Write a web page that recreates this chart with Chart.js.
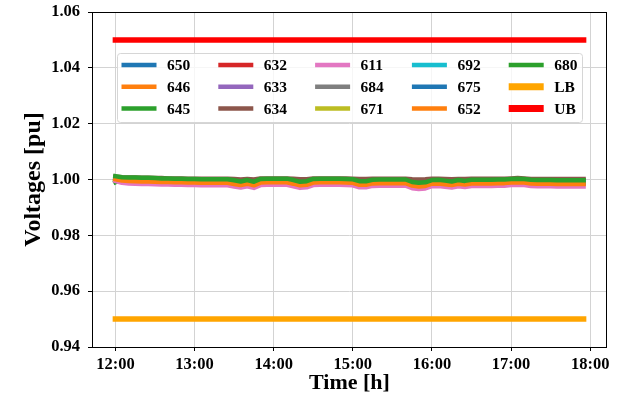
<!DOCTYPE html>
<html>
<head>
<meta charset="utf-8">
<script src="https://cdn.jsdelivr.net/npm/chart.js@4"></script>
<style>
  body { margin: 0; background: #fff; }
  #chart { display: block; }
</style>
</head>
<body>
<canvas id="chart" width="621" height="399"></canvas>
<script>
// time stamps (5 min samples)
const times = [
  "12:00","12:05","12:10","12:15","12:20","12:25","12:30","12:35","12:40","12:45",
  "12:50","12:55","13:00","13:05","13:10","13:15","13:20","13:25","13:30","13:35",
  "13:40","13:45","13:50","13:55","14:00","14:05","14:10","14:15","14:20","14:25",
  "14:30","14:35","14:40","14:45","14:50","14:55","15:00","15:05","15:10","15:15",
  "15:20","15:25","15:30","15:35","15:40","15:45","15:50","15:55","16:00","16:05",
  "16:10","16:15","16:20","16:25","16:30","16:35","16:40","16:45","16:50","16:55",
  "17:00","17:05","17:10","17:15","17:20","17:25","17:30","17:35","17:40","17:45",
  "17:50","17:55"
];
const boundTimes = ["12:00", "17:55"];
const tickLabels = ["12:00", "13:00", "14:00", "15:00", "16:00", "17:00", "18:00"];

// bus voltages [pu]
const v650 = [
  1.0009,1.0005,1.0004,1.0004,1.0003,1.0003,1.0002,1.0001,1.0001,1.0000,
  1.0000,0.9999,0.9999,0.9998,0.9998,0.9998,0.9998,0.9998,0.9994,0.9990,
  0.9995,0.9989,0.9999,1.0000,1.0000,1.0000,1.0000,0.9995,0.9989,0.9991,
  0.9999,1.0000,1.0000,1.0000,1.0000,0.9999,0.9998,0.9991,0.9991,0.9996,
  0.9997,0.9997,0.9997,0.9997,0.9997,0.9988,0.9985,0.9987,0.9995,0.9996,
  0.9993,0.9990,0.9995,0.9992,0.9996,0.9996,0.9996,0.9996,0.9997,0.9997,
  0.9999,1.0000,0.9999,0.9996,0.9995,0.9995,0.9995,0.9994,0.9994,0.9994,
  0.9994,0.9994
];
const v646 = [
  1.0003,0.9998,0.9997,0.9996,0.9995,0.9995,0.9994,0.9993,0.9993,0.9992,
  0.9992,0.9991,0.9991,0.9990,0.9990,0.9990,0.9990,0.9990,0.9986,0.9982,
  0.9987,0.9981,0.9991,0.9992,0.9992,0.9992,0.9992,0.9987,0.9981,0.9983,
  0.9991,0.9992,0.9992,0.9992,0.9992,0.9991,0.9990,0.9983,0.9983,0.9988,
  0.9989,0.9989,0.9989,0.9989,0.9989,0.9980,0.9977,0.9979,0.9987,0.9988,
  0.9985,0.9982,0.9987,0.9984,0.9988,0.9988,0.9988,0.9988,0.9989,0.9989,
  0.9991,0.9992,0.9991,0.9988,0.9987,0.9987,0.9987,0.9986,0.9986,0.9986,
  0.9986,0.9986
];
const v645 = [
  0.9990,1.0002,1.0001,1.0000,0.9999,0.9999,0.9998,0.9997,0.9997,0.9996,
  0.9996,0.9995,0.9995,0.9994,0.9994,0.9994,0.9994,0.9994,0.9990,0.9986,
  0.9991,0.9985,0.9995,0.9996,0.9996,0.9996,0.9996,0.9991,0.9985,0.9987,
  0.9995,0.9996,0.9996,0.9996,0.9996,0.9995,0.9994,0.9987,0.9987,0.9992,
  0.9993,0.9993,0.9993,0.9993,0.9993,0.9984,0.9981,0.9983,0.9991,0.9992,
  0.9989,0.9986,0.9991,0.9988,0.9992,0.9992,0.9992,0.9992,0.9993,0.9993,
  0.9995,0.9996,0.9995,0.9992,0.9991,0.9991,0.9991,0.9990,0.9990,0.9990,
  0.9990,0.9990
];
const v632 = [
  1.0007,1.0003,1.0002,1.0002,1.0001,1.0001,1.0000,0.9999,0.9999,0.9998,
  0.9998,0.9997,0.9997,0.9996,0.9996,0.9996,0.9996,0.9996,0.9992,0.9988,
  0.9993,0.9987,0.9997,0.9998,0.9998,0.9998,0.9998,0.9993,0.9987,0.9989,
  0.9997,0.9998,0.9998,0.9998,0.9998,0.9997,0.9996,0.9989,0.9989,0.9994,
  0.9995,0.9995,0.9995,0.9995,0.9995,0.9986,0.9983,0.9985,0.9993,0.9994,
  0.9991,0.9988,0.9993,0.9990,0.9994,0.9994,0.9994,0.9994,0.9995,0.9995,
  0.9997,0.9998,0.9997,0.9994,0.9993,0.9993,0.9993,0.9992,0.9992,0.9992,
  0.9992,0.9992
];
const v633 = [
  1.0002,0.9997,0.9996,0.9995,0.9994,0.9994,0.9993,0.9992,0.9992,0.9991,
  0.9991,0.9990,0.9990,0.9989,0.9989,0.9989,0.9989,0.9989,0.9985,0.9981,
  0.9986,0.9980,0.9990,0.9991,0.9991,0.9991,0.9991,0.9986,0.9980,0.9982,
  0.9990,0.9991,0.9991,0.9991,0.9991,0.9990,0.9989,0.9982,0.9982,0.9987,
  0.9988,0.9988,0.9988,0.9988,0.9988,0.9979,0.9976,0.9978,0.9986,0.9987,
  0.9984,0.9981,0.9986,0.9983,0.9987,0.9987,0.9987,0.9987,0.9988,0.9988,
  0.9990,0.9991,0.9990,0.9987,0.9986,0.9986,0.9986,0.9985,0.9985,0.9985,
  0.9985,0.9985
];
const v634 = [
  1.0010,1.0008,1.0007,1.0007,1.0006,1.0006,1.0005,1.0005,1.0004,1.0004,
  1.0004,1.0003,1.0003,1.0003,1.0003,1.0003,1.0003,1.0003,1.0002,1.0000,
  1.0002,1.0000,1.0004,1.0004,1.0004,1.0004,1.0004,1.0003,1.0001,1.0001,
  1.0004,1.0004,1.0004,1.0004,1.0004,1.0004,1.0003,1.0002,1.0002,1.0003,
  1.0003,1.0003,1.0003,1.0003,1.0003,1.0001,1.0000,1.0001,1.0003,1.0003,
  1.0002,1.0001,1.0002,1.0002,1.0003,1.0003,1.0003,1.0003,1.0003,1.0003,
  1.0004,1.0005,1.0004,1.0002,1.0002,1.0002,1.0002,1.0002,1.0002,1.0002,
  1.0002,1.0002
];
const v611 = [
  0.9995,0.9988,0.9986,0.9985,0.9984,0.9984,0.9983,0.9982,0.9982,0.9981,
  0.9981,0.9980,0.9980,0.9979,0.9979,0.9979,0.9979,0.9979,0.9975,0.9971,
  0.9976,0.9970,0.9980,0.9981,0.9981,0.9981,0.9981,0.9976,0.9970,0.9972,
  0.9980,0.9981,0.9981,0.9981,0.9981,0.9980,0.9979,0.9972,0.9972,0.9977,
  0.9978,0.9978,0.9978,0.9978,0.9978,0.9969,0.9966,0.9968,0.9976,0.9977,
  0.9974,0.9971,0.9976,0.9973,0.9977,0.9977,0.9977,0.9977,0.9978,0.9978,
  0.9980,0.9981,0.9980,0.9977,0.9976,0.9976,0.9976,0.9975,0.9975,0.9975,
  0.9975,0.9975
];
const v684 = [
  1.0004,0.9999,0.9998,0.9997,0.9996,0.9996,0.9995,0.9994,0.9994,0.9993,
  0.9993,0.9992,0.9992,0.9991,0.9991,0.9991,0.9991,0.9991,0.9987,0.9983,
  0.9988,0.9982,0.9992,0.9993,0.9993,0.9993,0.9993,0.9988,0.9982,0.9984,
  0.9992,0.9993,0.9993,0.9993,0.9993,0.9992,0.9991,0.9984,0.9984,0.9989,
  0.9990,0.9990,0.9990,0.9990,0.9990,0.9981,0.9978,0.9980,0.9988,0.9989,
  0.9986,0.9983,0.9988,0.9985,0.9989,0.9989,0.9989,0.9989,0.9990,0.9990,
  0.9992,0.9993,0.9992,0.9989,0.9988,0.9988,0.9988,0.9987,0.9987,0.9987,
  0.9987,0.9987
];
const v671 = [
  1.0006,1.0001,1.0000,0.9999,0.9998,0.9998,0.9997,0.9996,0.9996,0.9995,
  0.9995,0.9994,0.9994,0.9993,0.9993,0.9993,0.9993,0.9993,0.9989,0.9985,
  0.9990,0.9984,0.9994,0.9995,0.9995,0.9995,0.9995,0.9990,0.9984,0.9986,
  0.9994,0.9995,0.9995,0.9995,0.9995,0.9994,0.9993,0.9986,0.9986,0.9991,
  0.9992,0.9992,0.9992,0.9992,0.9992,0.9983,0.9980,0.9982,0.9990,0.9991,
  0.9988,0.9985,0.9990,0.9987,0.9991,0.9991,0.9991,0.9991,0.9992,0.9992,
  0.9994,0.9995,0.9994,0.9991,0.9990,0.9990,0.9990,0.9989,0.9989,0.9989,
  0.9989,0.9989
];
const v692 = [
  1.0005,1.0001,1.0000,1.0000,0.9999,0.9999,0.9998,0.9997,0.9997,0.9996,
  0.9996,0.9995,0.9995,0.9994,0.9994,0.9994,0.9994,0.9994,0.9990,0.9986,
  0.9991,0.9985,0.9995,0.9996,0.9996,0.9996,0.9996,0.9991,0.9985,0.9987,
  0.9995,0.9996,0.9996,0.9996,0.9996,0.9995,0.9994,0.9987,0.9987,0.9992,
  0.9993,0.9993,0.9993,0.9993,0.9993,0.9984,0.9981,0.9983,0.9991,0.9992,
  0.9989,0.9986,0.9991,0.9988,0.9992,0.9992,0.9992,0.9992,0.9993,0.9993,
  0.9995,0.9996,0.9995,0.9992,0.9991,0.9991,0.9991,0.9990,0.9990,0.9990,
  0.9990,0.9990
];
const v675 = [
  1.0003,0.9999,0.9998,0.9998,0.9997,0.9997,0.9996,0.9995,0.9995,0.9994,
  0.9994,0.9993,0.9993,0.9992,0.9992,0.9992,0.9992,0.9992,0.9988,0.9984,
  0.9989,0.9983,0.9993,0.9994,0.9994,0.9994,0.9994,0.9989,0.9983,0.9985,
  0.9993,0.9994,0.9994,0.9994,0.9994,0.9993,0.9992,0.9985,0.9985,0.9990,
  0.9991,0.9991,0.9991,0.9991,0.9991,0.9982,0.9979,0.9981,0.9989,0.9990,
  0.9987,0.9984,0.9989,0.9986,0.9990,0.9990,0.9990,0.9990,0.9991,0.9991,
  0.9993,0.9994,0.9993,0.9990,0.9989,0.9989,0.9989,0.9988,0.9988,0.9988,
  0.9988,0.9988
];
const v652 = [
  1.0001,0.9996,0.9995,0.9994,0.9993,0.9993,0.9992,0.9991,0.9991,0.9990,
  0.9990,0.9989,0.9989,0.9988,0.9988,0.9988,0.9988,0.9988,0.9984,0.9980,
  0.9985,0.9979,0.9989,0.9990,0.9990,0.9990,0.9990,0.9985,0.9979,0.9981,
  0.9989,0.9990,0.9990,0.9990,0.9990,0.9989,0.9988,0.9981,0.9981,0.9986,
  0.9987,0.9987,0.9987,0.9987,0.9987,0.9978,0.9975,0.9977,0.9985,0.9986,
  0.9983,0.9980,0.9985,0.9982,0.9986,0.9986,0.9986,0.9986,0.9987,0.9987,
  0.9989,0.9990,0.9989,0.9986,0.9985,0.9985,0.9985,0.9984,0.9984,0.9984,
  0.9984,0.9984
];
const v680 = [
  1.0012,1.0008,1.0007,1.0007,1.0006,1.0006,1.0005,1.0004,1.0004,1.0003,
  1.0003,1.0002,1.0002,1.0001,1.0001,1.0001,1.0001,1.0001,0.9997,0.9993,
  0.9998,0.9992,1.0002,1.0003,1.0003,1.0003,1.0003,0.9998,0.9992,0.9994,
  1.0002,1.0003,1.0003,1.0003,1.0003,1.0002,1.0001,0.9994,0.9994,0.9999,
  1.0000,1.0000,1.0000,1.0000,1.0000,0.9991,0.9988,0.9990,0.9998,0.9999,
  0.9996,0.9993,0.9998,0.9995,0.9999,0.9999,0.9999,0.9999,1.0000,1.0000,
  1.0002,1.0003,1.0002,0.9999,0.9998,0.9998,0.9998,0.9997,0.9997,0.9997,
  0.9997,0.9997
];
const lowerBound = [0.95, 0.95];
const upperBound = [1.05, 1.05];

const names = ["650", "646", "645", "632", "633", "634", "611", "684", "671",
               "692", "675", "652", "680", "LB", "UB"];
const series = [v650, v646, v645, v632, v633, v634, v611, v684, v671,
                v692, v675, v652, v680, lowerBound, upperBound];
const colors = ["#1f77b4", "#ff7f0e", "#2ca02c", "#d62728", "#9467bd", "#8c564b",
                "#e377c2", "#7f7f7f", "#bcbd22", "#17becf", "#1f77b4", "#ff7f0e",
                "#2ca02c", "#ffa500", "#ff0000"];

function toMin(s) {
  const [h, m] = s.split(":");
  return +h * 60 + +m;
}

const FONT = "'Liberation Serif', 'Times New Roman', serif";
const tMin = toMin(times[0]);
const tMax = toMin(times[times.length - 1]);
const pad = (tMax - tMin) * 0.05;

const datasets = series.map((vals, i) => {
  const isBound = names[i] === "LB" || names[i] === "UB";
  const xs = isBound ? boundTimes : times;
  return {
    label: names[i],
    data: vals.map((v, j) => ({ x: toMin(xs[j]), y: v })),
    borderColor: colors[i],
    backgroundColor: colors[i],
    borderWidth: isBound ? 5.5 : 4.5,
    borderCapStyle: "square",
    borderJoinStyle: "round",
    pointRadius: 0,
    tension: 0,
    fill: false,
    order: names.length - i,
    legendWidth: isBound ? 7 : 4.5,
  };
});

// matplotlib style legend, 5 columns filled column by column
const gridLegend = {
  id: "gridLegend",
  afterDatasetsDraw(chart) {
    const ctx = chart.ctx;
    const a = chart.chartArea;
    // frame
    ctx.save();
    ctx.strokeStyle = "#000";
    ctx.lineWidth = 1;
    ctx.strokeRect(a.left + 0.5, a.top + 0.5, a.right - a.left - 1, a.bottom - a.top);
    ctx.restore();

    const x0 = 117.5, y0 = 53.5, w = 465, h = 69;
    ctx.save();
    ctx.beginPath();
    ctx.roundRect(x0, y0, w, h, 3);
    ctx.fillStyle = "rgba(255,255,255,0.8)";
    ctx.fill();
    ctx.strokeStyle = "#d6d6d6";
    ctx.lineWidth = 1;
    ctx.stroke();
    ctx.font = "bold 15.5px " + FONT;
    ctx.textBaseline = "middle";
    ctx.textAlign = "left";
    chart.data.datasets.forEach((ds, k) => {
      const col = Math.floor(k / 3), row = k % 3;
      const sx = 121.5 + col * 96.8;
      const sy = 65 + row * 21.8;
      ctx.strokeStyle = ds.borderColor;
      ctx.lineWidth = ds.legendWidth;
      ctx.lineCap = "butt";
      ctx.beginPath();
      ctx.moveTo(sx, sy);
      ctx.lineTo(sx + 35, sy);
      ctx.stroke();
      ctx.fillStyle = "#000";
      ctx.fillText(ds.label, sx + 45.5, sy + 1);
    });
    ctx.restore();
  },
};

new Chart(document.getElementById("chart"), {
  type: "line",
  data: { datasets },
  options: {
    responsive: false,
    animation: false,
    layout: { padding: { top: 12, right: 14, left: 0, bottom: 0 } },
    plugins: { legend: { display: false }, tooltip: { enabled: false } },
    scales: {
      x: {
        type: "linear",
        min: tMin - pad,
        max: tMax + pad,
        afterFit: (s) => {
          s.height = 52;
          s.paddingLeft = 0;
          s.paddingRight = 0;
        },
        afterBuildTicks: (s) => { s.ticks = tickLabels.map((t) => ({ value: toMin(t) })); },
        grid: { color: "#d3d3d3", lineWidth: 1, tickColor: "#000", tickLength: 4 },
        border: { display: false },
        ticks: {
          color: "#000",
          font: { family: FONT, size: 16.5, weight: "bold" },
          padding: 4,
          maxRotation: 0,
          callback: (v) => tickLabels.find((t) => toMin(t) === v) || "",
        },
        title: {
          display: true,
          text: "Time [h]",
          color: "#000",
          font: { family: FONT, size: 22, weight: "bold" },
          padding: { top: 0, bottom: 2 },
        },
      },
      y: {
        min: 0.94,
        max: 1.06,
        afterFit: (s) => {
          s.width = 92;
          s.paddingTop = 0;
          s.paddingBottom = 0;
        },
        grid: { color: "#d3d3d3", lineWidth: 1, tickColor: "#000", tickLength: 4 },
        border: { display: false },
        ticks: {
          stepSize: 0.02,
          color: "#000",
          font: { family: FONT, size: 16.5, weight: "bold" },
          padding: 8,
          callback: (v) => v.toFixed(2),
        },
        title: {
          display: true,
          text: "Voltages [pu]",
          color: "#000",
          font: { family: FONT, size: 24, weight: "bold" },
          padding: { top: 19, bottom: 0 },
        },
      },
    },
  },
  plugins: [gridLegend],
});
</script>
</body>
</html>
